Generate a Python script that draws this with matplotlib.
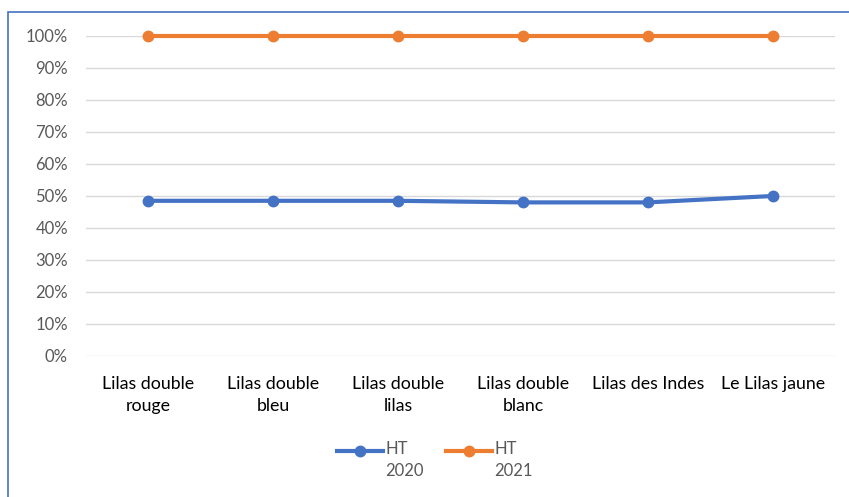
import matplotlib.pyplot as plt
from matplotlib.patches import Rectangle
from matplotlib.ticker import PercentFormatter

plt.rcParams['font.family'] = ['Lato', 'DejaVu Sans']

categories = ['Lilas double\nrouge', 'Lilas double\nbleu', 'Lilas double\nlilas',
              'Lilas double\nblanc', 'Lilas des Indes', 'Le Lilas jaune']
ht_2020 = [0.485, 0.485, 0.485, 0.48, 0.48, 0.50]
ht_2021 = [1.0, 1.0, 1.0, 1.0, 1.0, 1.0]
series_labels = ['HT\n2020', 'HT\n2021']

W, H = 849, 497
fig = plt.figure(figsize=(W / 100, H / 100), dpi=100)

# chart border (cropped at right and bottom in the reference)
fig.patches.append(Rectangle((8 / W, -0.1), 1.2, 1 - 12 / H + 0.1,
                             transform=fig.transFigure, fill=False,
                             edgecolor='#4472c4', linewidth=1.2))

ax = fig.add_axes([86 / W, (H - 356) / H, (835 - 86) / W, (356 - 36) / H])

x = range(len(categories))
ax.plot(x, ht_2020, color='#4472c4', lw=3, marker='o', ms=7.5,
        label=series_labels[0], clip_on=False, zorder=3)
ax.plot(x, ht_2021, color='#ed7d31', lw=3, marker='o', ms=7.5,
        label=series_labels[1], clip_on=False, zorder=3)

ax.set_xlim(-0.5, len(categories) - 0.5)
ax.set_ylim(0, 1)
ax.set_yticks([i / 10 for i in range(11)])
ax.yaxis.set_major_formatter(PercentFormatter(1.0, decimals=0))
ax.set_xticks(list(x))
ax.set_xticklabels(categories, fontsize=12.8, color='#000000', linespacing=1.45)
ax.tick_params(axis='y', labelsize=12, labelcolor='#595959', length=0, pad=13)
ax.tick_params(axis='x', length=0, pad=14.5)
ax.grid(axis='y', color='#d9d9d9', lw=1)
ax.set_axisbelow(True)
for s in ax.spines.values():
    s.set_visible(False)

leg = fig.legend(loc='center', bbox_to_anchor=(435 / W, 1 - 462 / H), ncol=2,
                 frameon=False, fontsize=12, handlelength=2.75, handleheight=4.4,
                 columnspacing=1.3, handletextpad=0.15, labelspacing=0,
                 borderpad=0)
for t in leg.get_texts():
    t.set_color('#595959')
    t.set_linespacing(1.5)

fig.savefig('out.png', dpi=100)
